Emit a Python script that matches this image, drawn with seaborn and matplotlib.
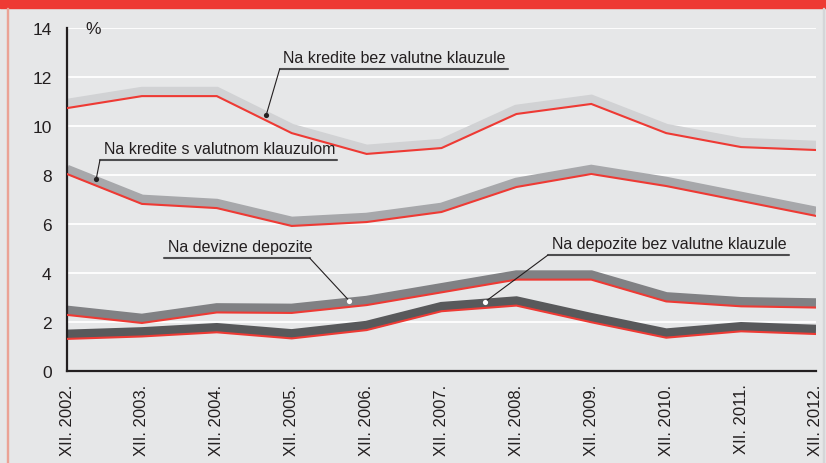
import matplotlib.pyplot as plt
import matplotlib.transforms as mtransforms
from matplotlib.patches import Rectangle
import numpy as np
import pandas as pd
import seaborn as sns

years = ["XII. 2002.", "XII. 2003.", "XII. 2004.", "XII. 2005.", "XII. 2006.", "XII. 2007.",
         "XII. 2008.", "XII. 2009.", "XII. 2010.", "XII. 2011.", "XII. 2012."]

# kamatne stope, %
kredite_bez_klauzule = [10.73, 11.22, 11.22, 9.71, 8.86, 9.10, 10.49, 10.90, 9.71, 9.14, 9.02]
kredite_s_klauzulom = [8.04, 6.82, 6.65, 5.92, 6.08, 6.49, 7.51, 8.04, 7.55, 6.94, 6.33]
devizne_depozite = [2.29, 1.96, 2.39, 2.37, 2.69, 3.21, 3.73, 3.73, 2.84, 2.64, 2.59]
depozite_bez_klauzule = [1.31, 1.41, 1.58, 1.33, 1.67, 2.44, 2.67, 1.99, 1.36, 1.62, 1.51]

series_names = ["Na kredite bez valutne klauzule", "Na kredite s valutnom klauzulom",
                "Na devizne depozite", "Na depozite bez valutne klauzule"]
series_values = [kredite_bez_klauzule, kredite_s_klauzulom, devizne_depozite, depozite_bez_klauzule]
band_colors = ["#d1d2d4", "#a7a8ab", "#808184", "#58595b"]

BG = "#e6e7e8"
RED = "#ee3a34"
INK = "#231f20"

sns.set_style("white", {"axes.facecolor": BG, "figure.facecolor": BG})
plt.rcParams["font.family"] = ["Liberation Sans", "DejaVu Sans"]

fig = plt.figure(figsize=(8.26, 4.64), dpi=100)
ax = fig.add_axes([67 / 826, 92 / 464, 749 / 826, 343 / 464])

# white horizontal grid
for yv in range(2, 16, 2):
    ax.axhline(yv, color="white", lw=1.3, zorder=0.5)

band_trans = mtransforms.offset_copy(ax.transData, fig=fig, y=3.3, units="points")
x = np.arange(len(years))
for name, vals, col in zip(series_names, series_values, band_colors):
    df = pd.DataFrame({"x": x, "v": vals})
    sns.lineplot(data=df, x="x", y="v", ax=ax, color=col, lw=6.8,
                 solid_capstyle="butt", solid_joinstyle="miter", transform=band_trans, zorder=2)
    sns.lineplot(data=df, x="x", y="v", ax=ax, color=RED, lw=1.5,
                 solid_joinstyle="miter", zorder=3)

ax.set_xlim(0, 10)
ax.set_ylim(0, 14)
ax.set_xlabel("")
ax.set_ylabel("")
ax.set_xticks(x)
ax.set_xticklabels(years, rotation=90, fontsize=12, color=INK)
ax.set_yticks(range(0, 15, 2))
ax.set_yticklabels([str(v) for v in range(0, 15, 2)], fontsize=12.5, color=INK)
ax.tick_params(axis="both", direction="out", length=5, width=1.2, color=INK, pad=6)
ax.tick_params(axis="x", pad=4)
for s in ["top", "right"]:
    ax.spines[s].set_visible(False)
for s in ["left", "bottom"]:
    ax.spines[s].set_color(INK)
    ax.spines[s].set_linewidth(1.6)
ax.text(0.024, 1.0, "%", transform=ax.transAxes, fontsize=12.5, va="center", ha="left", color=INK)

# annotations: label, underline span, leader end point, dot colour
labels = [
    (series_names[0], 2.84, 5.89, 12.33, 2.84, 2.66, 10.45, INK),
    (series_names[1], 0.44, 3.60, 8.61, 0.44, 0.39, 7.84, INK),
    (series_names[2], 1.30, 3.24, 4.61, 3.24, 3.77, 2.86, "white"),
    (series_names[3], 6.42, 9.64, 4.73, 6.42, 5.58, 2.82, "white"),
]
for txt, x0, x1, yu, xl, xd, yd, dcol in labels:
    ax.plot([x0, x1], [yu, yu], color="#4d4d4f", lw=1.5, zorder=4)
    ax.plot([xl, xd], [yu, yd], color=INK, lw=0.8, zorder=4)
    ax.scatter([xd], [yd], s=14, color=dcol, zorder=5, linewidths=0)
    ax.text(x0 + 0.05, yu + 0.18, txt, fontsize=11.5, color=INK, ha="left", va="bottom", zorder=5)

# frame: red band at the top and thin lines at the sides
fig.patches.append(Rectangle((0, 455 / 464), 1, 9 / 464, transform=fig.transFigure,
                             color=RED, zorder=10))
fig.patches.append(Rectangle((6.5 / 826, 0), 1 / 826, 455 / 464, transform=fig.transFigure,
                             color="#eba295", zorder=10))
fig.patches.append(Rectangle((823 / 826, 0), 1 / 826, 455 / 464, transform=fig.transFigure,
                             color="#d5d6d8", zorder=10))

fig.savefig("out.png", dpi=100, facecolor=BG)
